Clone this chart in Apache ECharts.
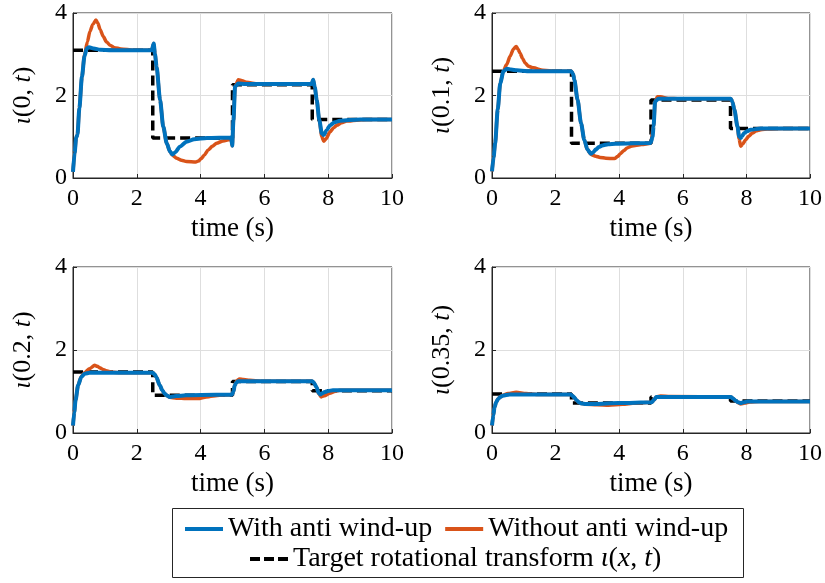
<!DOCTYPE html>
<html>
<head>
<meta charset="utf-8">
<script src="https://cdn.jsdelivr.net/npm/echarts@6/dist/echarts.min.js"></script>
<style>html,body{margin:0;padding:0;background:#fff}#c{width:825px;height:583px}</style>
</head>
<body>
<div id="c"></div>
<script>
// ---- data ----
const stepTimes = [0, 2.5, 5, 7.5, 10];
const panelLabels = ['0', '0.1', '0.2', '0.35'];
const xTicks = [0, 2, 4, 6, 8, 10];
const yTicks = [0, 2, 4];

const target_0 = [3.1, 0.97, 2.26, 1.42];
const target_1 = [2.59, 0.84, 1.89, 1.2];
const target_2 = [1.47, 0.91, 1.24, 1.02];
const target_3 = [0.94, 0.72, 0.87, 0.77];

const withAW_0 = [[0,0.15],[0.05,0.6],[0.1,0.98],[0.14,1.05],[0.2,1.7],[0.28,2.45],[0.36,2.95],[0.43,3.14],[0.5,3.17],[0.65,3.14],[0.85,3.11],[1.2,3.1],[2.47,3.1],[2.53,3.26],[2.57,3.0],[2.62,2.7],[2.73,1.89],[2.83,1.24],[2.94,0.84],[3.04,0.64],[3.12,0.57],[3.2,0.62],[3.35,0.76],[3.56,0.88],[3.8,0.94],[4.2,0.97],[4.96,0.98],[4.99,0.78],[5.03,1.4],[5.08,2.21],[5.18,2.29],[5.4,2.28],[7.48,2.28],[7.53,2.38],[7.58,2.2],[7.64,1.89],[7.72,1.41],[7.8,1.08],[7.86,1.04],[7.95,1.16],[8.06,1.28],[8.2,1.35],[8.37,1.39],[9,1.42],[10,1.42]];
const noAW_0 = [[0,0.15],[0.05,0.6],[0.1,0.98],[0.14,1.05],[0.2,1.7],[0.28,2.45],[0.36,2.98],[0.45,3.3],[0.53,3.55],[0.62,3.72],[0.72,3.83],[0.78,3.75],[0.85,3.6],[0.95,3.43],[1.05,3.3],[1.16,3.22],[1.3,3.16],[1.5,3.13],[1.9,3.1],[2.47,3.1],[2.53,3.26],[2.57,3.0],[2.62,2.7],[2.73,1.89],[2.83,1.24],[2.94,0.84],[3.04,0.64],[3.12,0.55],[3.25,0.48],[3.4,0.43],[3.56,0.4],[3.85,0.39],[3.93,0.41],[4.02,0.47],[4.12,0.56],[4.24,0.68],[4.37,0.77],[4.5,0.84],[4.7,0.9],[4.96,0.94],[4.99,0.78],[5.03,1.4],[5.08,2.21],[5.18,2.38],[5.3,2.36],[5.44,2.32],[5.8,2.28],[7.48,2.28],[7.53,2.38],[7.58,2.2],[7.64,1.89],[7.72,1.41],[7.8,1.0],[7.86,0.89],[7.93,0.95],[8.06,1.12],[8.17,1.22],[8.27,1.28],[8.42,1.34],[8.58,1.38],[9.2,1.42],[10,1.42]];

const withAW_1 = [[0,0.16],[0.05,0.5],[0.1,0.85],[0.18,1.66],[0.26,2.3],[0.36,2.59],[0.47,2.65],[0.6,2.63],[0.78,2.61],[1.1,2.59],[2.49,2.59],[2.55,2.52],[2.59,2.38],[2.69,1.9],[2.8,1.33],[2.9,0.93],[3.0,0.69],[3.11,0.59],[3.18,0.62],[3.26,0.69],[3.36,0.75],[3.47,0.79],[3.65,0.82],[3.89,0.83],[4.99,0.85],[5.05,1.0],[5.08,1.25],[5.13,1.86],[5.23,1.92],[7.51,1.92],[7.56,1.85],[7.62,1.66],[7.72,1.25],[7.77,1.01],[7.82,0.97],[7.87,1.02],[7.93,1.09],[8.03,1.14],[8.13,1.17],[8.45,1.2],[10,1.2]];
const noAW_1 = [[0,0.16],[0.05,0.5],[0.1,0.85],[0.18,1.66],[0.26,2.3],[0.36,2.6],[0.46,2.75],[0.57,2.95],[0.67,3.12],[0.76,3.19],[0.82,3.12],[0.88,3.03],[0.96,2.9],[1.04,2.79],[1.15,2.71],[1.3,2.67],[1.6,2.61],[2.0,2.59],[2.49,2.59],[2.55,2.52],[2.59,2.38],[2.69,1.9],[2.8,1.33],[2.9,0.93],[3.0,0.69],[3.11,0.57],[3.26,0.53],[3.4,0.5],[3.58,0.48],[3.85,0.47],[3.95,0.52],[4.04,0.59],[4.14,0.66],[4.25,0.73],[4.38,0.77],[4.51,0.79],[4.7,0.81],[4.99,0.84],[5.08,1.25],[5.13,1.86],[5.2,1.97],[5.3,1.97],[5.54,1.93],[5.9,1.92],[7.51,1.92],[7.56,1.85],[7.62,1.66],[7.72,1.25],[7.77,0.95],[7.82,0.77],[7.88,0.82],[7.98,0.93],[8.08,1.02],[8.19,1.09],[8.3,1.14],[8.45,1.17],[8.7,1.19],[9.2,1.2],[10,1.2]];

const withAW_2 = [[0,0.18],[0.04,0.5],[0.08,0.79],[0.16,1.15],[0.26,1.35],[0.37,1.43],[0.52,1.45],[2.5,1.45],[2.56,1.41],[2.61,1.35],[2.72,1.15],[2.8,1.03],[2.87,0.95],[2.95,0.9],[3.03,0.87],[3.14,0.88],[3.24,0.89],[3.55,0.91],[4.49,0.92],[4.98,0.92],[5.03,1.0],[5.07,1.15],[5.12,1.21],[5.17,1.25],[7.5,1.25],[7.55,1.21],[7.63,1.11],[7.7,0.97],[7.75,0.93],[7.82,0.96],[7.89,0.99],[8.0,1.01],[8.15,1.03],[10,1.03]];
const noAW_2 = [[0,0.18],[0.04,0.5],[0.08,0.79],[0.16,1.15],[0.26,1.36],[0.37,1.46],[0.52,1.55],[0.68,1.63],[0.76,1.61],[0.84,1.57],[0.94,1.53],[1.04,1.5],[1.2,1.47],[1.5,1.45],[2.5,1.45],[2.56,1.41],[2.61,1.35],[2.72,1.15],[2.8,1.03],[2.87,0.95],[2.95,0.9],[3.03,0.86],[3.24,0.84],[3.55,0.83],[3.92,0.83],[4.18,0.87],[4.6,0.91],[4.98,0.92],[5.03,1.0],[5.07,1.15],[5.13,1.26],[5.22,1.3],[5.35,1.29],[5.54,1.27],[5.9,1.25],[7.5,1.25],[7.55,1.21],[7.63,1.11],[7.7,0.95],[7.78,0.87],[7.88,0.9],[8.05,0.96],[8.2,1.0],[8.36,1.03],[10,1.03]];

const withAW_3 = [[0,0.18],[0.04,0.42],[0.08,0.62],[0.13,0.74],[0.19,0.82],[0.26,0.87],[0.34,0.9],[0.55,0.93],[2.47,0.93],[2.53,0.9],[2.58,0.86],[2.66,0.79],[2.73,0.74],[2.83,0.71],[2.94,0.7],[3.25,0.7],[3.98,0.72],[5.02,0.74],[5.1,0.8],[5.17,0.87],[7.51,0.87],[7.58,0.83],[7.66,0.78],[7.74,0.74],[7.82,0.72],[7.92,0.74],[8.03,0.76],[10,0.76]];
const noAW_3 = [[0,0.18],[0.04,0.42],[0.08,0.62],[0.13,0.74],[0.19,0.82],[0.26,0.87],[0.34,0.91],[0.5,0.95],[0.76,0.98],[1.07,0.95],[1.4,0.93],[2.47,0.93],[2.53,0.9],[2.58,0.86],[2.66,0.79],[2.73,0.74],[2.83,0.71],[2.94,0.69],[3.3,0.68],[3.67,0.67],[4.1,0.69],[4.5,0.72],[5.02,0.74],[5.1,0.8],[5.17,0.87],[5.3,0.89],[5.6,0.88],[7.51,0.87],[7.58,0.83],[7.66,0.78],[7.74,0.73],[7.82,0.7],[7.95,0.72],[8.1,0.75],[8.4,0.76],[10,0.76]];

const targets = [target_0, target_1, target_2, target_3];
const withAW = [withAW_0, withAW_1, withAW_2, withAW_3];
const noAW = [noAW_0, noAW_1, noAW_2, noAW_3];

const NAME_WITH = 'With anti wind-up';
const NAME_WITHOUT = 'Without anti wind-up';
const NAME_TARGET = 'Target rotational transform';

// ---- layout / style ----
const FONT = 'Liberation Serif';
const BLUE = '#0072BD', ORANGE = '#D95319', AXIS = '#262626';
const grids = [
  {left: 73, top: 13, width: 319, height: 165},
  {left: 492, top: 13, width: 321, height: 165},
  {left: 73, top: 267, width: 319, height: 166},
  {left: 492, top: 267, width: 321, height: 166}
];
const ICON_SOLID = 'path://M0,0h38v4h-38z';
const ICON_DASH = 'path://M0,0h10v4h-10z M14,0h10v4h-10z M28,0h10v4h-10z';

function stepData(levels) {
  const d = [];
  levels.forEach((v, i) => d.push([stepTimes[i], v]));
  d.push([stepTimes[stepTimes.length - 1], levels[levels.length - 1]]);
  return d;
}

const richName = {
  n: {fontFamily: FONT, fontSize: 26, color: '#000'},
  i: {fontFamily: FONT, fontSize: 26, fontStyle: 'italic', color: '#000'}
};

const xAxes = [], yAxes = [], series = [];
grids.forEach((g, k) => {
  xAxes.push({
    type: 'value', gridIndex: k, min: 0, max: 10, interval: 2,
    name: 'time (s)', nameLocation: 'middle', nameGap: 37,
    nameTextStyle: {fontFamily: FONT, fontSize: 27, color: '#000'},
    axisLine: {lineStyle: {color: AXIS, width: 1}},
    axisTick: {inside: true, length: 4, lineStyle: {color: AXIS}},
    axisLabel: {fontFamily: FONT, fontSize: 24, color: '#000', margin: 9,
      formatter: v => xTicks.includes(v) ? String(v) : ''},
    splitLine: {show: true, lineStyle: {color: '#dedede', width: 1}}
  });
  yAxes.push({
    type: 'value', gridIndex: k, min: 0, max: 4, interval: 2,
    name: '{i|ι}{n|(' + panelLabels[k] + ', }{i|t}{n|)}',
    nameLocation: 'middle', nameGap: 37, nameRotate: 90,
    nameTextStyle: {rich: richName},
    axisLine: {show: true, lineStyle: {color: AXIS, width: 1}},
    axisTick: {show: true, inside: true, length: 4, lineStyle: {color: AXIS}},
    axisLabel: {fontFamily: FONT, fontSize: 24, color: '#000', margin: 6,
      formatter: v => yTicks.includes(v) ? String(v) : ''},
    splitLine: {show: true, lineStyle: {color: '#dedede', width: 1}}
  });
  series.push({
    name: NAME_TARGET, type: 'line', xAxisIndex: k, yAxisIndex: k,
    data: stepData(targets[k]), step: 'end', symbol: 'none', z: 2,
    lineStyle: {color: '#000', width: 3.5, type: [10, 5]}, itemStyle: {color: '#000'}
  });
  series.push({
    name: NAME_WITHOUT, type: 'line', xAxisIndex: k, yAxisIndex: k,
    data: noAW[k], symbol: 'none', smooth: 0.25, smoothMonotone: 'x', z: 3,
    lineStyle: {color: ORANGE, width: 3.5}, itemStyle: {color: ORANGE}
  });
  series.push({
    name: NAME_WITH, type: 'line', xAxisIndex: k, yAxisIndex: k,
    data: withAW[k], symbol: 'none', smooth: 0.25, smoothMonotone: 'x', z: 4,
    lineStyle: {color: BLUE, width: 4}, itemStyle: {color: BLUE}
  });
});

const legendText = {fontFamily: FONT, fontSize: 28, color: '#000',
  rich: {n: {fontFamily: FONT, fontSize: 28, color: '#000'},
         i: {fontFamily: FONT, fontSize: 28, fontStyle: 'italic', color: '#000'}}};

const option = {
  animation: false,
  backgroundColor: '#fff',
  grid: grids.map(g => Object.assign({show: true, borderColor: AXIS, borderWidth: 1, backgroundColor: '#fff'}, g)),
  xAxis: xAxes,
  yAxis: yAxes,
  graphic: [{
    type: 'rect', left: 172, top: 508, z: 0,
    shape: {width: 571, height: 69},
    style: {fill: '#fff', stroke: AXIS, lineWidth: 1}
  }],
  legend: [{
    data: [{name: NAME_WITH, icon: ICON_SOLID}, {name: NAME_WITHOUT, icon: ICON_SOLID}],
    left: 185, top: 515, padding: 0,
    itemWidth: 38, itemHeight: 4, itemGap: 13, selectedMode: false,
    textStyle: legendText
  }, {
    data: [{name: NAME_TARGET, icon: ICON_DASH}], left: 250, top: 545, padding: 0,
    itemWidth: 38, itemHeight: 4, selectedMode: false,
    textStyle: legendText,
    formatter: n => '{n|' + n + ' }{i|ι}{n|(}{i|x}{n|, }{i|t}{n|)}'
  }],
  series: series
};

const chart = echarts.init(document.getElementById('c'), null, {renderer: 'canvas'});
chart.setOption(option);
</script>
</body>
</html>
